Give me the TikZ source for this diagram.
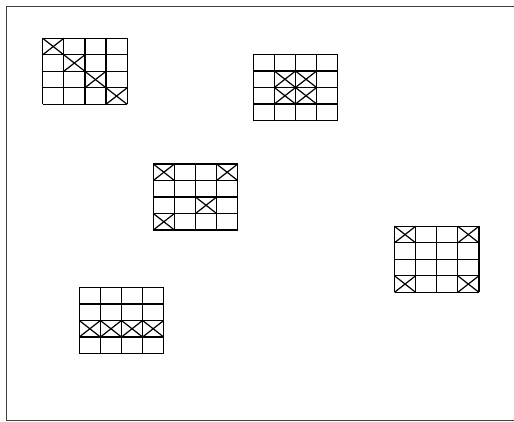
\documentclass[tikz,border=0pt]{standalone}
\tikzset{
  gridline/.style={line width=1.2pt, black},
  frameline/.style={line width=1.4pt, black!75},
}
\newcommand\cellgrid[3]{%
  \begin{scope}[shift={(#1,#2)}]
    \foreach \i in {0,...,4} {
      \draw[gridline] (\i*21.1,0) -- (\i*21.1,66);
      \draw[gridline] (0,\i*16.5) -- (84.4,\i*16.5);
    }
    \foreach \c/\r in {#3} {
      \draw[gridline] (\c*21.1,\r*16.5) -- ++(21.1,16.5);
      \draw[gridline] (\c*21.1+21.1,\r*16.5) -- ++(-21.1,16.5);
    }
  \end{scope}}
\begin{document}
\begin{tikzpicture}[x=1pt,y=-1pt]
  \useasboundingbox (0,0) rectangle (514,421);
  \clip (0,0) rectangle (514,421);
  \draw[frameline] (530,6.5) -- (6.5,6.5) -- (6.5,420.5) -- (530,420.5);
  \cellgrid{42.7}{38.3}{0/0,1/1,2/2,3/3}
  \cellgrid{253.3}{54.5}{1/1,2/1,1/2,2/2}
  \cellgrid{153.3}{164}{0/0,3/0,2/2,0/3}
  \cellgrid{394.5}{226.3}{0/0,3/0,0/3,3/3}
  \cellgrid{79.3}{287.5}{0/2,1/2,2/2,3/2}
\end{tikzpicture}
\end{document}
